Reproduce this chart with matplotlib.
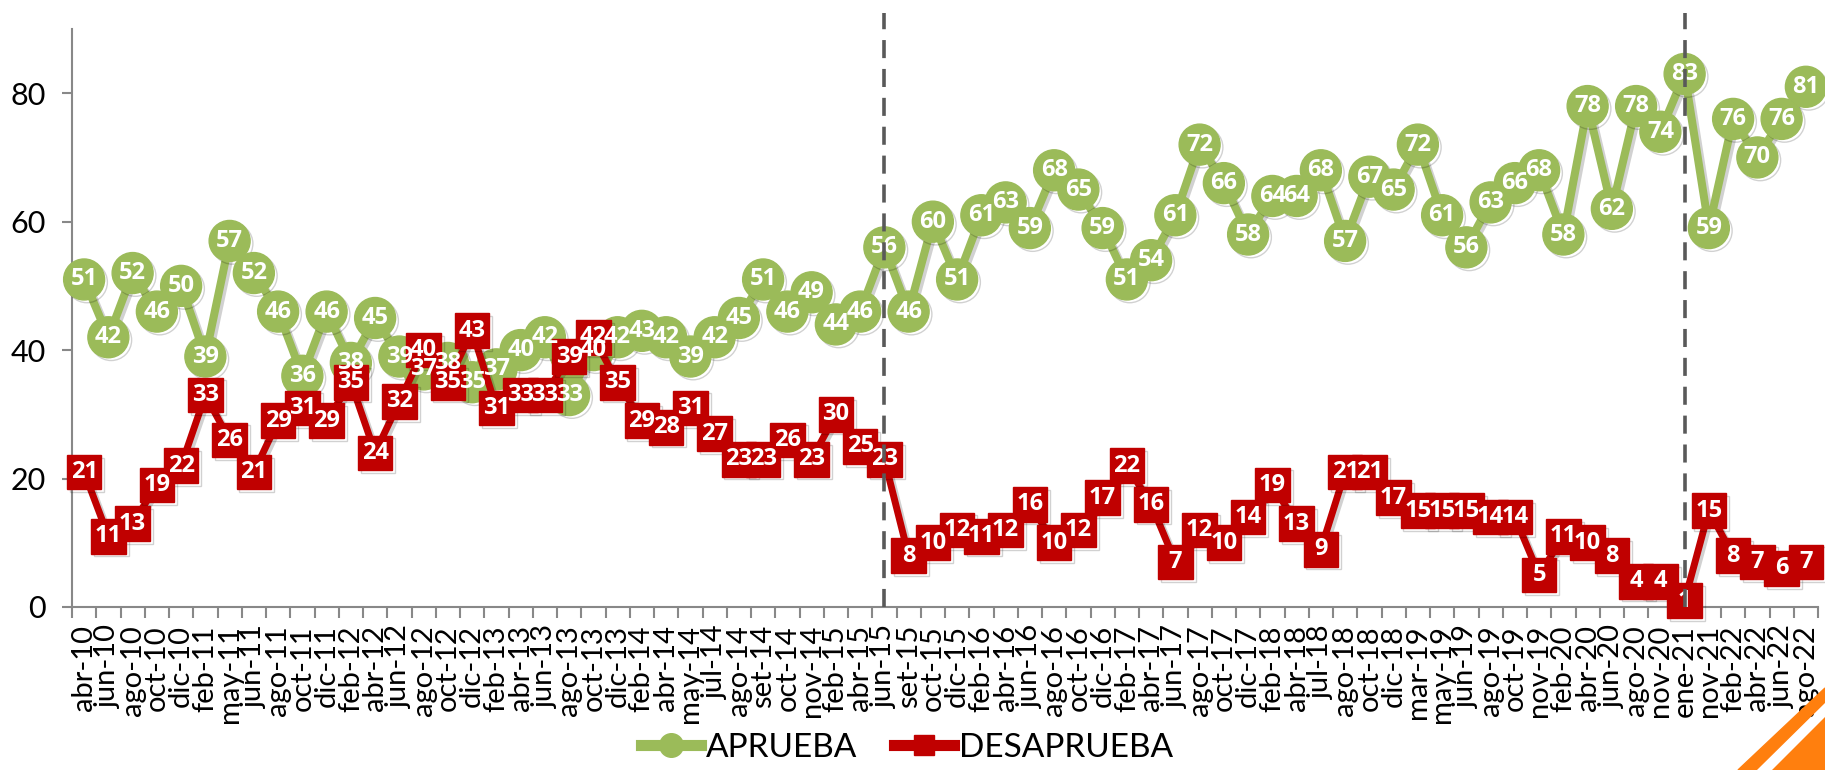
import numpy as np
import matplotlib
matplotlib.use("Agg")
import matplotlib.pyplot as plt
import matplotlib.patheffects as pe
from matplotlib.lines import Line2D
from matplotlib.patches import Polygon

# --- data -------------------------------------------------------------
fechas = [
    "abr-10", "jun-10", "ago-10", "oct-10", "dic-10", "feb-11", "may-11", "jun-11",
    "ago-11", "oct-11", "dic-11", "feb-12", "abr-12", "jun-12", "ago-12", "oct-12",
    "dic-12", "feb-13", "abr-13", "jun-13", "ago-13", "oct-13", "dic-13", "feb-14",
    "abr-14", "may-14", "jul-14", "ago-14", "set-14", "oct-14", "nov-14", "feb-15",
    "abr-15", "jun-15", "set-15", "oct-15", "dic-15", "feb-16", "abr-16", "jun-16",
    "ago-16", "oct-16", "dic-16", "feb-17", "abr-17", "jun-17", "ago-17", "oct-17",
    "dic-17", "feb-18", "abr-18", "jul-18", "ago-18", "oct-18", "dic-18", "mar-19",
    "may-19", "jun-19", "ago-19", "oct-19", "nov-19", "feb-20", "abr-20", "jun-20",
    "ago-20", "nov-20", "ene-21", "nov-21", "feb-22", "abr-22", "jun-22", "ago-22",
]

aprueba = [
    51, 42, 52, 46, 50, 39, 57, 52, 46, 36, 46, 38, 45, 39, 37, 38,
    35, 37, 40, 42, 33, 40, 42, 43, 42, 39, 42, 45, 51, 46, 49, 44,
    46, 56, 46, 60, 51, 61, 63, 59, 68, 65, 59, 51, 54, 61, 72, 66,
    58, 64, 64, 68, 57, 67, 65, 72, 61, 56, 63, 66, 68, 58, 78, 62,
    78, 74, 83, 59, 76, 70, 76, 81,
]

desaprueba = [
    21, 11, 13, 19, 22, 33, 26, 21, 29, 31, 29, 35, 24, 32, 40, 35,
    43, 31, 33, 33, 39, 42, 35, 29, 28, 31, 27, 23, 23, 26, 23, 30,
    25, 23, 8, 10, 12, 11, 12, 16, 10, 12, 17, 22, 16, 7, 12, 10,
    14, 19, 13, 9, 21, 21, 17, 15, 15, 15, 14, 14, 5, 11, 10, 8,
    4, 4, 1, 15, 8, 7, 6, 7,
]

cortes = ["jun-15", "ene-21"]   # dashed separators

# --- style ------------------------------------------------------------
VERDE = "#9BBB59"
ROJO = "#C00000"
GRIS = "#888888"
LABEL_FONT = ["Open Sans", "DejaVu Sans"]
TICK_FONT = ["Lato", "DejaVu Sans"]

W, H = 1825, 770
fig = plt.figure(figsize=(W / 100, H / 100), dpi=100)
ax = fig.add_axes([72 / W, 1 - 607 / H, (1818 - 72) / W, (607 - 29) / H])

x = np.arange(len(fechas))
sombra = [pe.SimpleLineShadow(offset=(2, -2), shadow_color="black", alpha=0.18), pe.Normal()]

ax.plot(x, aprueba, color=VERDE, lw=5.8, marker="o", ms=29.5, mec=VERDE, mfc=VERDE,
        zorder=3, clip_on=False, path_effects=sombra)
ax.plot(x, desaprueba, color=ROJO, lw=5.0, marker="s", ms=25, mec=ROJO, mfc=ROJO,
        zorder=4, clip_on=False, path_effects=sombra)

for xi, v in zip(x, aprueba):
    ax.text(xi, v, str(v), ha="center", va="center", color="white", fontsize=17,
            fontweight="bold", family=LABEL_FONT, zorder=6, clip_on=False)
for xi, v in zip(x, desaprueba):
    ax.text(xi, v, str(v), ha="center", va="center", color="white", fontsize=17,
            fontweight="bold", family=LABEL_FONT, zorder=6, clip_on=False)

for c in cortes:
    xc = fechas.index(c)
    ax.plot([xc, xc], [0, 92.5], color="#595959", lw=2.6, ls=(0, (5, 3)),
            zorder=8, clip_on=False)

ax.set_xlim(-0.5, len(fechas) - 0.5)
ax.set_ylim(0, 90)

# tick marks between categories, labels at the centres
ax.set_xticks(np.arange(-0.5, len(fechas), 1))
ax.set_xticklabels([])
ax.tick_params(axis="x", which="major", direction="out", length=8, width=1.5, color=GRIS)
ax.set_xticks(x, fechas, minor=True)
ax.tick_params(axis="x", which="minor", length=0, pad=13, labelsize=21, rotation=90)

ax.set_yticks([0, 20, 40, 60, 80])
ax.tick_params(axis="y", direction="out", length=7, width=1.5, color=GRIS,
               labelsize=22, pad=12)
for t in ax.get_xticklabels(minor=True) + ax.get_yticklabels():
    t.set_family(TICK_FONT)

for s in ["top", "right"]:
    ax.spines[s].set_visible(False)
for s in ["left", "bottom"]:
    ax.spines[s].set_color(GRIS)
    ax.spines[s].set_linewidth(1.5)

handles = [
    Line2D([], [], color=VERDE, lw=8, marker="o", ms=17, label="APRUEBA"),
    Line2D([], [], color=ROJO, lw=8, marker="s", ms=15, label="DESAPRUEBA"),
]
fig.legend(handles=handles, loc="center", bbox_to_anchor=(907 / W, 1 - 748 / H), ncol=2,
           frameon=False, prop={"family": TICK_FONT, "size": 24}, handlelength=1.8,
           handletextpad=0.15, columnspacing=1.1)

# orange slide decoration, bottom-right corner
def px(pts):
    return [(a / W, 1 - b / H) for a, b in pts]

fig.patches.append(Polygon(px([(1738, 770), (1756, 770), (1825, 702), (1825, 688)]),
                           closed=True, color="#FF7F0E", transform=fig.transFigure))
fig.patches.append(Polygon(px([(1772, 770), (1825, 770), (1825, 717)]),
                           closed=True, color="#FF7F0E", transform=fig.transFigure))

fig.savefig("out.png", dpi=100)
